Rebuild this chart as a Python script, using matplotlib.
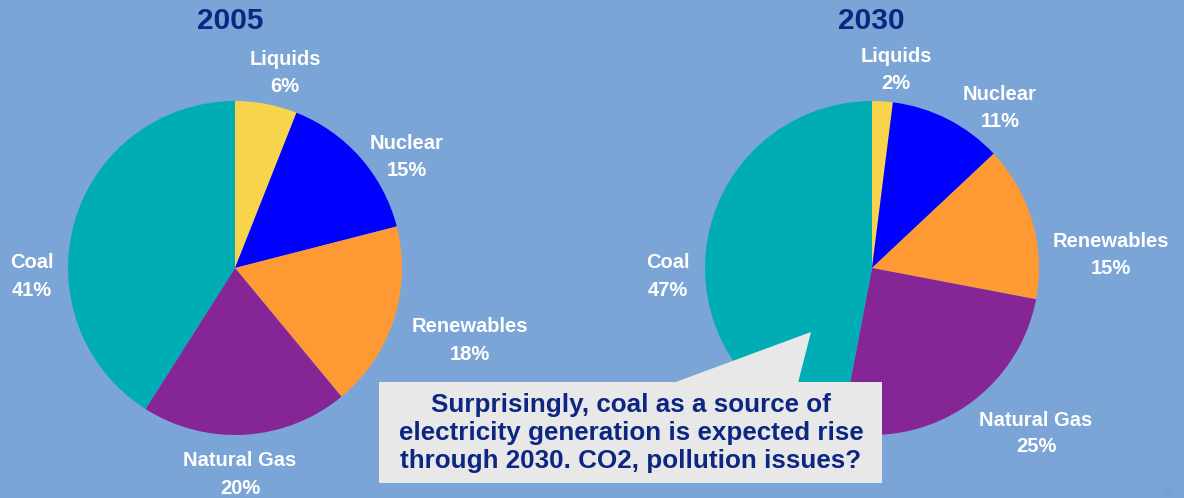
import matplotlib.pyplot as plt
from matplotlib.patches import Polygon, Rectangle

plt.rcParams['font.family'] = ['Liberation Sans', 'DejaVu Sans']
plt.rcParams['font.weight'] = 'bold'

# data
sources = ['Liquids', 'Nuclear', 'Renewables', 'Natural Gas', 'Coal']
share_2005 = [6, 15, 18, 20, 41]
share_2030 = [2, 11, 15, 25, 47]
years = ['2005', '2030']
colors = ['#F7D44C', '#0000FF', '#FF9933', '#862596', '#00ADB5']
note = ('Surprisingly, coal as a source of\n'
        'electricity generation is expected rise\n'
        'through 2030. CO2, pollution issues?')

BG = '#7BA5D7'
NAVY = '#0C2682'
W, H = 1184, 498

fig = plt.figure(figsize=(W / 100, H / 100), dpi=100, facecolor=BG)
ax = fig.add_axes([0, 0, 1, 1])
ax.set_xlim(0, W)
ax.set_ylim(0, H)
ax.set_aspect('equal')
ax.axis('off')

# layout in pixel coords (y measured from top of image)
centers = [(235, 268), (872, 268)]
radius = 167
title_pos = [(230, 21), (871, 21)]
label_pos = [
    [(285, 59), (407, 143), (470, 327), (240, 461), (32, 263)],
    [(896, 56), (1000, 94), (1111, 241), (1036, 420), (668, 263)],
]

for k, vals in enumerate([share_2005, share_2030]):
    cx, cy = centers[k]
    ax.pie(vals, colors=colors, startangle=90, counterclock=False,
           center=(cx, H - cy), radius=radius, frame=True,
           wedgeprops=dict(linewidth=0))
    tx, ty = title_pos[k]
    ax.text(tx, H - ty, years[k], ha='center', va='center',
            fontsize=21.5, color=NAVY, fontweight='bold')
    for name, v, (lx, ly) in zip(sources, vals, label_pos[k]):
        ax.text(lx, H - ly, name, ha='center', va='center',
                fontsize=14.5, color='white', fontweight='bold')
        ax.text(lx, H - ly - 27, f'{v}%', ha='center', va='center',
                fontsize=14.5, color='white', fontweight='bold')

# pie() resets limits, restore
ax.set_xlim(0, W)
ax.set_ylim(0, H)
ax.axis('off')

# callout box with pointer into the 2030 coal slice
box_fc = '#E8E8E8'
ax.add_patch(Rectangle((379, H - 483), 503, 101, facecolor=box_fc,
                       edgecolor='none', zorder=5))
ax.add_patch(Polygon([(673, H - 383), (811, H - 332), (798, H - 383)],
                     closed=True, facecolor=box_fc, edgecolor='none', zorder=5))
ax.text(631, H - 433, note, ha='center', va='center', fontsize=18.7,
        color=NAVY, fontweight='bold', linespacing=1.2, zorder=6)

# page number (faint, bottom right corner)
ax.text(1168, 1, '22', ha='center', va='bottom', fontsize=7,
        color='#6F9BE3', fontweight='bold')

fig.savefig('out.png', dpi=100, facecolor=BG)
